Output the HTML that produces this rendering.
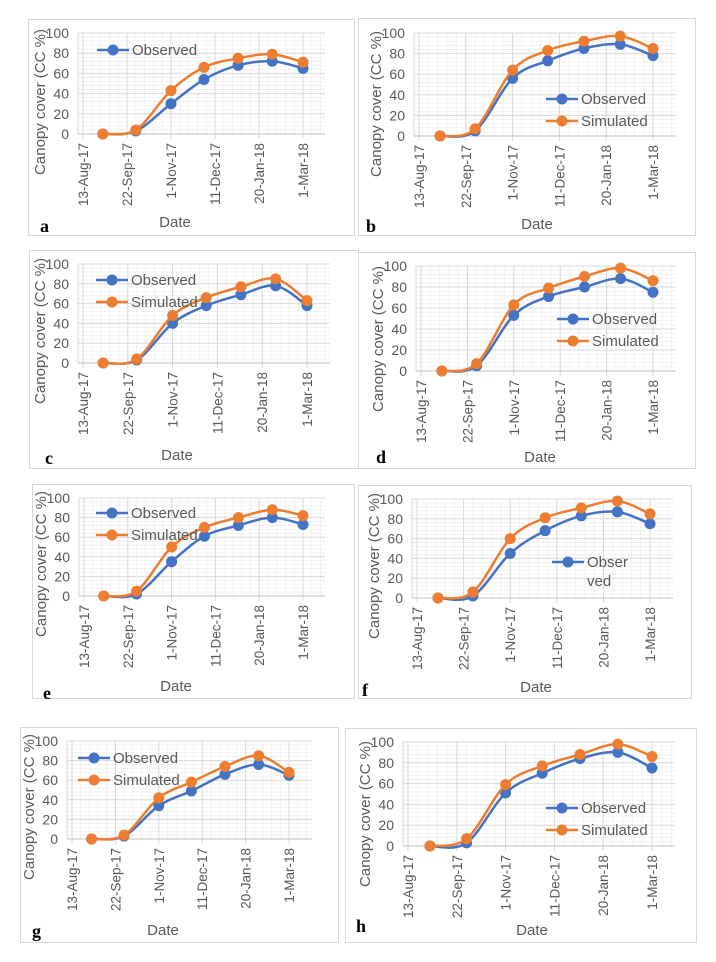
<!DOCTYPE html>
<html><head><meta charset="utf-8"><style>
html,body{margin:0;padding:0;background:#fff;}
svg{display:block;}
text{font-family:"Liberation Sans",sans-serif;fill:#595959;}
</style></head><body>
<svg id="fig" width="716" height="962" viewBox="0 0 716 962"></svg>
<script>
// Data: day offsets from 13-Aug-17 for each sampling date
const sampleDays = [18, 48, 80, 110, 141, 172, 200];
const tickLabels = ["13-Aug-17","22-Sep-17","1-Nov-17","11-Dec-17","20-Jan-18","1-Mar-18"];
const tickDays = [0, 40, 80, 120, 160, 200];
const yTicks = [0, 20, 40, 60, 80, 100];
const panelLetters = ["a","b","c","d","e","f","g","h"];
const obsA = [0, 3, 30, 54, 68, 72, 65];
const simA = [0, 4, 43, 66, 75, 79, 71];
const obsB = [0, 5, 56, 73, 85, 89, 78];
const simB = [0, 7, 64, 83, 92, 97, 85];
const obsC = [0, 3, 40, 58, 69, 78, 58];
const simC = [0, 4, 48, 66, 77, 85, 63];
const obsD = [0, 5, 53, 71, 80, 88, 75];
const simD = [0, 7, 63, 79, 90, 98, 86];
const obsE = [0, 2, 35, 61, 72, 80, 73];
const simE = [0, 5, 50, 70, 80, 88, 82];
const obsF = [0, 2, 45, 68, 83, 87, 75];
const simF = [0, 6, 60, 81, 91, 98, 85];
const obsG = [0, 3, 34, 49, 66, 76, 65];
const simG = [0, 4, 42, 58, 74, 85, 68];
const obsH = [0, 3, 51, 70, 84, 90, 75];
const simH = [0, 7, 59, 77, 88, 98, 86];

const obsAll = [obsA,obsB,obsC,obsD,obsE,obsF,obsG,obsH];
const simAll = [simA,simB,simC,simD,simE,simF,simG,simH];

// Layout (pixels)
const layout = [
 {box:[28,19,326,216], x0:83, x200:303, y100:33, y0:134, right:325, leg:[113,50], legMode:"obs", letter:[40,232], date:[175,227]},
 {box:[358,18,337,217], x0:419, x200:653, y100:33, y0:136, right:676, leg:[562,99], legMode:"both", letter:[366,232], date:[537,229]},
 {box:[29,250,329,218], x0:83, x200:307, y100:264, y0:363, right:330, leg:[112,280], legMode:"both", letter:[45,464], date:[177,460]},
 {box:[358,252,337,216], x0:421, x200:653, y100:266, y0:371, right:676, leg:[573,319], legMode:"both", letter:[376,463], date:[540,462]},
 {box:[32,484,322,214], x0:84, x200:303, y100:498, y0:596, right:325, leg:[112,513], legMode:"both", letter:[43,699], date:[176,691]},
 {box:[358,485,333,213], x0:417, x200:650, y100:499, y0:598, right:673, leg:[568,562], legMode:"split", letter:[362,696], date:[536,692]},
 {box:[20,727,318,215], x0:72, x200:289, y100:741, y0:839, right:312, leg:[94,758], legMode:"both", letter:[32,937], date:[163,935]},
 {box:[345,728,351,214], x0:408, x200:652, y100:742, y0:846, right:675, leg:[562,808], legMode:"both", letter:[356,932], date:[532,935]}
];

const NS = "http://www.w3.org/2000/svg";
const svg = document.getElementById("fig");
function mk(tag, attrs, parent){
  const e = document.createElementNS(NS, tag);
  for (const k in attrs) e.setAttribute(k, attrs[k]);
  (parent||svg).appendChild(e);
  return e;
}
const BLUE="#4472c4", ORANGE="#ed7d31";

function smoothPath(pts){
  let d = "M"+pts[0][0]+","+pts[0][1];
  for (let i=0;i<pts.length-1;i++){
    const p0=pts[Math.max(0,i-1)], p1=pts[i], p2=pts[i+1], p3=pts[Math.min(pts.length-1,i+2)];
    const c1x=p1[0]+(p2[0]-p0[0])/6, c1y=p1[1]+(p2[1]-p0[1])/6;
    const c2x=p2[0]-(p3[0]-p1[0])/6, c2y=p2[1]-(p3[1]-p1[1])/6;
    d += " C"+c1x.toFixed(1)+","+c1y.toFixed(1)+" "+c2x.toFixed(1)+","+c2y.toFixed(1)+" "+p2[0].toFixed(1)+","+p2[1].toFixed(1);
  }
  return d;
}

layout.forEach((L, pi) => {
  const g = mk("g", {});
  
  
  const xS = d => L.x0 + (L.x200 - L.x0) * d / 200;
  const yS = v => L.y0 - (L.y0 - L.y100) * v / 100;
  const left = L.x0 - 5;
  const fr = mk("rect", {x:L.box[0]+0.5, y:L.box[1]+0.5, width:L.box[2], height:L.box[3], fill:"#fff", stroke:"#d9d9d9", "stroke-width":1}, g);
  
  
  const grid = mk("g", {}, g);
  
  
  for (let v=4; v<=100; v+=4){
    if (v%20===0) continue;
    mk("line",{x1:left,x2:L.right,y1:yS(v),y2:yS(v),stroke:"#efefef","stroke-width":0.8},grid);
  }
  for (let d=-8; xS(d)<=L.right; d+=8){
    if (xS(d)<left || d%40===0) continue;
    mk("line",{x1:xS(d),x2:xS(d),y1:yS(100),y2:L.y0,stroke:"#efefef","stroke-width":0.8},grid);
  }
  yTicks.forEach(v=>{
    if (v>0) mk("line",{x1:left,x2:L.right,y1:yS(v),y2:yS(v),stroke:"#d9d9d9","stroke-width":1},grid);
    const t = mk("text",{x:left-9,y:yS(v)+5,"text-anchor":"end","font-size":14},g);
    t.textContent = v;
    
    
  });
  mk("line",{x1:left,x2:left,y1:yS(100),y2:L.y0,stroke:"#d9d9d9","stroke-width":1},grid);
  tickDays.forEach((d,i)=>{
    mk("line",{x1:xS(d),x2:xS(d),y1:yS(100),y2:L.y0+5,stroke:"#d9d9d9","stroke-width":1},grid);
    const t = mk("text",{x:0,y:0,"text-anchor":"end","font-size":13.5,transform:"translate("+(xS(d)+5)+","+(L.y0+9)+") rotate(-90)"},g);
    t.textContent = tickLabels[i];
    
    
  });
  mk("line",{x1:left,x2:L.right,y1:L.y0,y2:L.y0,stroke:"#bfbfbf","stroke-width":1},g);
  const yt = mk("text",{x:0,y:0,"text-anchor":"middle","font-size":15,transform:"translate("+(left-33)+","+(L.y0-32)+") rotate(-90)"},g);
  yt.textContent = "Canopy cover (CC %)";
  
  
  const xt = mk("text",{x:L.date[0],y:L.date[1],"text-anchor":"middle","font-size":15},g);
  xt.textContent = "Date";
  
  
  const lt = mk("text",{x:L.letter[0],y:L.letter[1],"font-size":18,"font-weight":"bold",style:"font-family:'Liberation Serif',serif;fill:#000"},g);
  lt.textContent = panelLetters[pi];
  
  
  [[obsAll[pi],BLUE,"observed-series"],[simAll[pi],ORANGE,"simulated-series"]].forEach(([vals,col,nm])=>{
    const sg = mk("g",{},g);
    
    
    const pts = vals.map((v,i)=>[xS(sampleDays[i]), yS(v)]);
    mk("path",{d:smoothPath(pts),fill:"none",stroke:col,"stroke-width":2.5},sg);
    pts.forEach(p=>{
      const c = mk("circle",{cx:p[0],cy:p[1],r:5.5,fill:col},sg);
      
      
    });
  });
  const lg = mk("g",{},g);
  
  
  const entries = L.legMode==="both" ? [["Observed",BLUE],["Simulated",ORANGE]] : [["Observed",BLUE]];
  entries.forEach(([lab,col],k)=>{
    const cx = L.leg[0], cy = L.leg[1] + k*22;
    const eg = mk("g",{},lg);
    
    
    mk("line",{x1:cx-16,x2:cx+16,y1:cy,y2:cy,stroke:col,"stroke-width":2.5},eg);
    mk("circle",{cx:cx,cy:cy,r:5.5,fill:col},eg);
    if (L.legMode==="split"){
      const t1 = mk("text",{x:cx+19,y:cy+5,"font-size":15},eg); t1.textContent="Obser";
      const t2 = mk("text",{x:cx+19,y:cy+24,"font-size":15},eg); t2.textContent="ved";
    } else {
      const t = mk("text",{x:cx+19,y:cy+5,"font-size":15},eg); t.textContent=lab;
    }
  });
});
</script>
</body></html>
